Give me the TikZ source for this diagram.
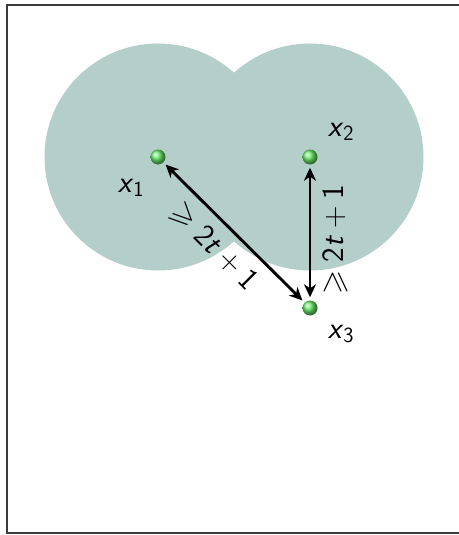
\RequirePackage{fix-cm}
\documentclass[tikz,border=0pt]{standalone}
\DeclareFontFamily{U}{msa}{}
\DeclareFontShape{U}{msa}{m}{n}{<-> msam10}{}
\usepackage{amssymb}
\usepackage{fontspec}
\usetikzlibrary{arrows.meta}
\definecolor{zone}{RGB}{180,206,201}
\definecolor{frameC}{RGB}{60,60,60}
\definecolor{ballC}{RGB}{105,235,105}
\tikzset{
  zonecircle/.style={fill=zone, draw=none},
  ballnode/.style={circle, minimum size=15pt, inner sep=0pt, shading=ball, ball color=ballC},
  distarrow/.style={{Stealth[length=13pt,width=12pt,inset=4pt]}-{Stealth[length=13pt,width=12pt,inset=4pt]}, line width=2.9pt, shorten <=3pt, shorten >=3pt},
  lbl/.style={font=\fontsize{31}{36}\selectfont\sffamily, inner sep=1pt}
}
\begin{document}
\begin{tikzpicture}[x=1pt,y=-1pt]
\useasboundingbox (0,0) rectangle (458,535);
\draw[frameC, line width=1.3pt] (470,5) -- (7,5) -- (7,533) -- (470,533);
\fill[zonecircle] (158,157) circle (113.5);
\fill[zonecircle] (310,157) circle (113.5);
\node[ballnode] (b1) at (158,157) {};
\node[ballnode] (b2) at (310,157) {};
\node[ballnode] (b3) at (310,308) {};
\node[lbl] (l1) at (131,188) {\textsl{x}$_{\mathsf{1}}$};
\node[lbl] (l2) at (341,132) {\textsl{x}$_{\mathsf{2}}$};
\node[lbl] (l3) at (341,334) {\textsl{x}$_{\mathsf{3}}$};
\draw[distarrow] (b3) -- (b1);
\draw[distarrow] (b3) -- (b2);
\node[lbl, rotate=-45] (d1) at (214,247) {$\geqslant\mathsf{2}\textsf{\textsl{t}}+\mathsf{1}$};
\node[lbl, rotate=90] (d2) at (335,240) {$\geqslant\mathsf{2}\textsf{\textsl{t}}+\mathsf{1}$};
\end{tikzpicture}
\end{document}
